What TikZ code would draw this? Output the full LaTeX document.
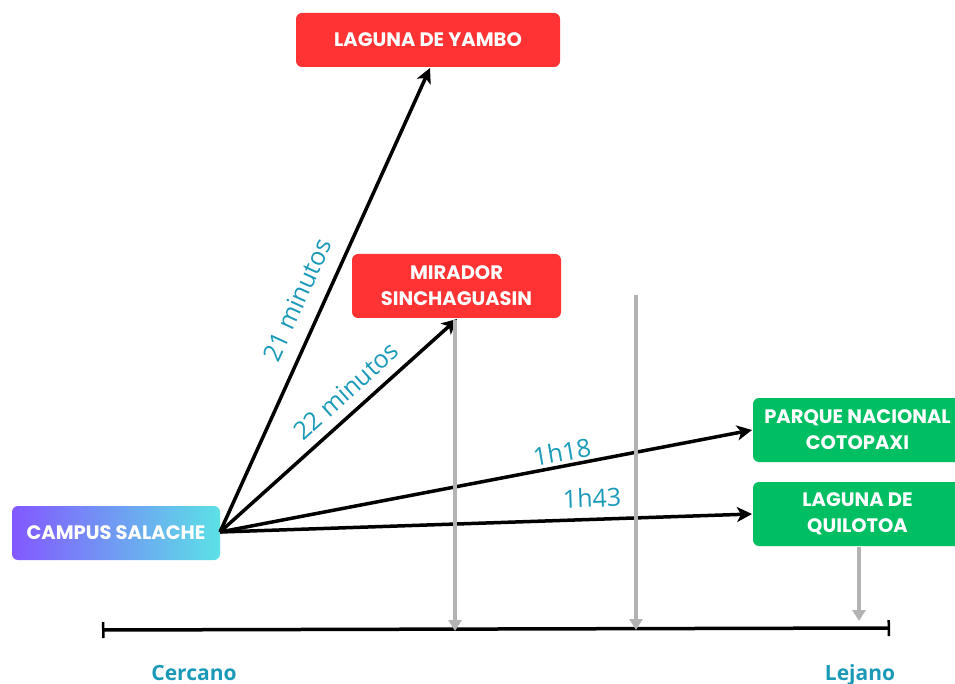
\documentclass[tikz,border=0pt]{standalone}
\usepackage{fontspec}
\setmainfont{Poppins}
\newfontfamily\labfont{Open Sans}
\usetikzlibrary{arrows.meta}
\definecolor{redbox}{HTML}{FF3333}
\definecolor{greenbox}{HTML}{00BF63}
\definecolor{purp}{HTML}{8358FF}
\definecolor{cyanb}{HTML}{5CE1E6}
\definecolor{tealc}{HTML}{1B9AB8}
\definecolor{grayarr}{HTML}{B3B3B3}
\tikzset{
  box/.style={rounded corners=6pt, inner sep=0pt, align=center, text=white,
    font=\fontsize{19.5}{26}\selectfont\bfseries},
  conn/.style={line width=3.5pt, -{Stealth[length=15pt,width=15pt,inset=4pt]}, black},
  garr/.style={line width=3.5pt, grayarr, -{Triangle[length=11pt,width=13pt]}},
  lab/.style={text=tealc, font=\labfont\fontsize{25}{28}\selectfont, inner sep=0pt},
  endlab/.style={text=tealc, font=\labfont\fontsize{21}{24}\selectfont\bfseries, anchor=base},
}
\begin{document}
\begin{tikzpicture}[x=1pt,y=-1pt]
\useasboundingbox (0,0) rectangle (955,684);
% boxes
\node[box, left color=purp, right color=cyanb, minimum width=208pt, minimum height=54pt] (campus) at (116,533) {CAMPUS SALACHE};
\node[box, fill=redbox, minimum width=264pt, minimum height=54pt] (yambo) at (428,40) {LAGUNA DE YAMBO};
\node[box, fill=redbox, minimum width=209pt, minimum height=64pt] (mirador) at (456.5,286) {MIRADOR\\SINCHAGUASIN};
\node[box, fill=greenbox, minimum width=209pt, minimum height=64pt] (cotopaxi) at (857.5,430) {PARQUE NACIONAL\\COTOPAXI};
\node[box, fill=greenbox, minimum width=209pt, minimum height=64pt] (quilotoa) at (857.5,514) {LAGUNA DE\\QUILOTOA};
% start coordinate
\coordinate (s) at (220,532);
\coordinate (ty) at (430,68);
\coordinate (tm) at (457,319);
\coordinate (tc) at (752,430);
\coordinate (tq) at (752,514);
\draw[conn] (s) -- (ty);
\draw[conn] (s) -- (tm);
\draw[conn] (s) -- (tc);
\draw[conn] (s) -- (tq);
% labels
\node[lab, rotate=65.6] (l21) at (297,300) {21 minutos};
\node[lab, rotate=42] (l22) at (346,391) {22 minutos};
\node[lab, rotate=10] (l18) at (562,452) {1h18};
\node[lab, rotate=2] (l43) at (592,498) {1h43};
% timeline
\coordinate (tl) at (102,630);
\coordinate (tr) at (890,628);
\draw[line width=3.5pt, {Bar[width=16pt,line width=2.5pt]}-{Bar[width=16pt,line width=2.5pt]}] (tl) -- (tr);
% gray arrows
\coordinate (g1s) at (455,320);
\coordinate (g1e) at (455,631);
\coordinate (g2s) at (636,295);
\coordinate (g2e) at (636,630);
\coordinate (g3s) at (859,547);
\coordinate (g3e) at (859,621);
\draw[garr] (g1s) -- (g1e);
\draw[garr] (g2s) -- (g2e);
\draw[garr] (g3s) -- (g3e);
\node[endlab] (cerc) at (194,680) {Cercano};
\node[endlab] (lej) at (860,680) {Lejano};
\end{tikzpicture}
\end{document}
